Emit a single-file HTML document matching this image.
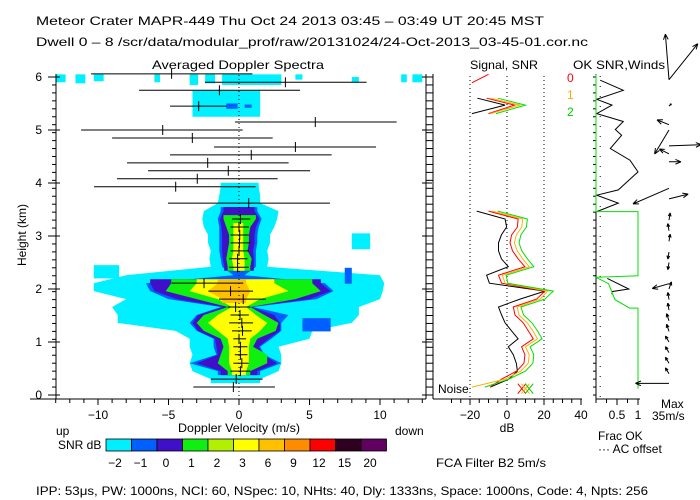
<!DOCTYPE html>
<html><head><meta charset="utf-8">
<style>
body{margin:0;background:#fff;}
svg{display:block;font-family:"Liberation Sans",sans-serif;}
text{font-size:12px;fill:#000;}
</style></head>
<body>
<svg id="c" width="700" height="500" viewBox="0 0 700 500">
<text x="36" y="25" font-size="13" textLength="508" lengthAdjust="spacingAndGlyphs">Meteor Crater   MAPR-449   Thu Oct 24 2013 03:45 – 03:49 UT 20:45 MST</text>
<text x="36" y="46" font-size="13" textLength="552" lengthAdjust="spacingAndGlyphs">Dwell  0 –  8   /scr/data/modular_prof/raw/20131024/24-Oct-2013_03-45-01.cor.nc</text>
<text x="152" y="69" font-size="13" textLength="172" lengthAdjust="spacingAndGlyphs">Averaged Doppler Spectra</text>
<text x="470" y="69" font-size="13" textLength="68" lengthAdjust="spacingAndGlyphs">Signal, SNR</text>
<text x="573" y="69" font-size="13" textLength="92" lengthAdjust="spacingAndGlyphs">OK SNR,Winds</text>
<text transform="translate(26,235) rotate(-90)" text-anchor="middle" font-size="11">Height (km)</text>
<text x="178" y="432" textLength="122" lengthAdjust="spacingAndGlyphs">Doppler Velocity (m/s)</text>
<text x="56" y="435">up</text>
<text x="395" y="435">down</text>
<text x="58" y="449">SNR dB</text>
<text x="507" y="432" text-anchor="middle">dB</text>
<text x="598" y="440">Frac OK</text>
<text x="598" y="453">··· AC offset</text>
<text x="661" y="408">Max</text>
<text x="652" y="420">35m/s</text>
<text x="436" y="467" textLength="110" lengthAdjust="spacingAndGlyphs">FCA Filter B2   5m/s</text>
<text x="36" y="495" textLength="612" lengthAdjust="spacingAndGlyphs">IPP:  53μs,  PW: 1000ns,  NCI:  60,  NSpec: 10, NHts: 40,  Dly: 1333ns,  Space: 1000ns,  Code: 4,  Npts: 256</text>
<text x="438" y="393" font-size="11">Noise</text>
<text x="567" y="82" style="fill:#f00">0</text>
<text x="567" y="99" style="fill:#f0b000">1</text>
<text x="567" y="116" style="fill:#0c0">2</text>
</svg>
<script>
// ---- data ----
const gates=[0.15,0.30,0.45,0.60,0.76,0.91,1.06,1.21,1.36,1.51,1.66,1.81,1.96,2.11,2.26,2.42,2.57,2.72,2.87,3.02,3.17,3.32,3.47,3.62,3.77,3.93];
const cyanL=[null,-2,-3.3,-3.5,-3.3,-3.5,-3.5,-4.5,-8.6,-8.6,-9,-8,-10.3,-10.3,-8,-2,-2.1,-2,-2.2,-2.2,-2.5,-2.6,-2.5,-1.5,-1.4,-1.3];
const cyanR=[null,1.5,2.8,3,3,2.8,5,5.2,8,8.5,8.5,10,10.2,10.3,10,2,2.1,2,2.2,2.2,2.5,2.7,2.8,1.5,1.5,1.4];
const blueL=[null,null,-1.5,-3.5,-1.6,-1.8,-1.8,-3,-3.5,-3,-1.3,-5,-6.3,-6.6,-0.4,-1.2,-1.3,-1.4,-1.4,-1.4,-1.4,-1.5,-1.3,null,null,null];
const blueR=[null,null,1.5,3,1.8,1.5,2.3,3,3,3.5,1.0,5.5,6.7,6.1,0.4,1.2,1.2,1.2,1.3,1.3,1.4,1.6,1.3,null,null,null];
const indL=[null,null,-1.3,-3.0,-1.5,-1.6,-1.7,-2.9,-3.3,-2.9,-1.1,-4.4,-6.0,-6.3,null,-1.05,-1.15,-1.2,-1.2,-1.2,-1.25,-1.35,-1.1,null,null,null];
const indR=[null,null,1.3,2.7,1.7,1.4,2.1,2.9,2.9,2.5,0.9,5.0,6.5,5.8,null,1.05,1.05,1.0,1.1,1.1,1.2,1.45,1.1,null,null,null];
const greenL=[null,null,-0.8,-1.5,-1.3,-1.1,-1.3,-2.5,-3,-2.5,-0.8,-3,-5.2,-4.8,null,-0.8,-0.9,-0.8,-0.7,-0.7,-0.9,-1.1,null,null,null,null];
const greenR=[null,null,0.8,2,2,1,1.3,2.6,2.8,1.8,0.8,4,5.8,5.2,null,0.8,0.9,0.6,0.7,0.7,0.8,1.2,null,null,null,null];
const yelL=[null,null,-0.5,-0.7,-0.7,-0.7,-0.8,-1.5,-2.2,-1.5,-0.5,-1.5,-3.5,-3,null,-0.4,-0.5,-0.4,-0.4,-0.4,-0.4,null,null,null,null,null];
const yelR=[null,null,0.5,0.7,0.7,0.7,0.8,1.5,2,1.2,0.5,1.5,3.5,2.5,null,0.4,0.4,0.3,0.3,0.3,0.3,null,null,null,null,null];
const orgL=[null,null,null,null,null,null,null,null,null,null,null,-1.2,-2.2,-1.5,null,null,null,null,null,null,null,null,null,null,null,null];
const orgR=[null,null,null,null,null,null,null,null,null,null,null,0.5,0.8,0.5,null,null,null,null,null,null,null,null,null,null,null,null];
const cyanPatches=[[-13,-12.3,5.9,6.05],[-11.6,-10.9,5.88,6.05],[-10.3,-9.6,5.92,6.05],[-6,-5.6,5.9,6.05],[-3.5,-2.9,5.85,6.05],[-2.4,-1.7,5.88,6.05],[-1.2,3,5.85,6.05],[4,4.5,5.95,6.05],[8,8.5,5.9,6.0],[11.5,11.9,5.9,6.05],[12.3,13,5.9,6.05],[-3.3,1.5,5.25,5.75],[8,9.3,2.75,3.05],[-10.3,-8.5,2.2,2.45]];
const bluePatches=[[-0.9,-0.1,5.4,5.5],[0.4,0.9,5.42,5.48],[4.5,6.5,1.2,1.45],[7.5,8,2.1,2.4]];
// error bars
const barH=[6.06,5.9,5.75,5.45,5.15,5.0,4.85,4.68,4.53,4.38,4.23,4.08,3.93,3.62,3.32,3.17,3.02,2.87,2.72,2.57,2.41,2.11,1.96,1.81,1.66,1.51,1.36,1.21,1.06,0.91,0.76,0.6,0.45,0.3,0.15];
const barC=[-4.78,3.29,-1.39,-2.86,5.41,-5.41,-3.31,4.0,0.87,-2.22,-0.76,-2.96,-4.49,0.69,0.1,0,0.05,0.03,0,-0.1,-0.1,-2.48,-0.6,0.3,-0.24,0.07,0.2,0.25,0,0.1,0.1,0.2,0.1,-0.2,-0.4];
const barL=[-10.5,-2.41,-7.09,-4.89,-0.28,-11.2,-9.0,-1.77,-4.89,-7.94,-6.45,-8.65,-10.28,-5.04,-0.5,-0.6,-0.6,-0.6,-0.6,-0.7,-0.7,-4.78,-2.17,-1.42,-0.8,-0.6,-0.7,-0.5,-0.4,-0.4,-0.3,-0.4,-0.6,-1.99,-3.24];
const barR=[0.95,9.05,4.33,-0.87,11.18,0.26,2.39,9.72,6.57,3.52,5.04,2.74,1.18,6.45,0.8,0.7,0.7,0.8,0.7,0.6,0.7,0.3,1.0,1.9,0.8,0.7,1.0,0.9,0.5,0.6,0.6,0.7,0.8,1.68,2.55];
// signal / SNR
const sigH=[0.15,0.30,0.45,0.60,0.76,0.91,1.06,1.21,1.36,1.51,1.66,1.81,1.96,2.11,2.26,2.42,2.57,2.72,2.87,3.02,3.17,3.32,3.47];
const signalDb=[-9,1,5.6,5,3.4,0.7,6,2.5,-1,-2.9,-4.6,7,20.5,-9.5,-11,0.7,-3,-4.6,-4.6,-3,-0.2,-1,-16.4];
const snr0=[-9.2,-2.9,5.2,9.2,9.7,7.9,14.2,11.5,8.8,4.3,3.4,16,20.5,-2.9,-4.6,9.7,6,3,1.6,2.5,5.6,6,-10];
const snr1=[-19,-1,7.5,11.5,12,10,16.5,14,11,6.5,5.5,18,22,-1,-2.5,12,8.5,5.5,4,5,8,8.5,-8];
const snr2=[-12,1,10,14,14.5,12.5,19,16.5,13.5,9,7.5,20.5,25,0.5,-0.5,14.5,11,8,6.5,7.5,10.5,11,-5];
const topH=[5.6,5.47,5.31];
const topSignal=[-16,-1,-19];
const topSnr0=[-11,4,-10];
const topSnr1=[-9,7,-9];
const topSnr2=[-5,10,-6];
// OK fraction
const okBlackH=[5.94,5.75,5.58,5.47,5.31,5.16,5.01,4.9,4.65,4.43,4.21,3.87,3.77,3.62,3.46];
const okBlackF=[0.1,0.65,0.02,0.38,0.02,0.65,0.46,0.61,0.34,0.81,1.0,0.53,0.02,0.53,0.02];
const okLowH=[2.2,2.0,1.95,1.9];
const okLowF=[0.27,0.78,0.38,0.38];
const okGreenH=[6.05,3.46,3.46,2.25,2.22,2.1,1.8,1.64,1.64,0.12];
const okGreenF=[0,0,1,1,0,0.3,0.45,0.8,1,1];
// winds: height, u (m/s east), v (m/s north)
const windH=[5.95,5.95,5.45,5.1,5.0,4.7,4.55,4.4,3.9,3.7,3.3,3.1,2.9,2.7,2.5,2.1,2.0,1.8,1.6,1.4,1.2,1.0,0.8,0.6,0.4,0.22];
const windU=[-3,24,2,-10,-12,27,-8,10,-30,16,1,-1,1,-1,-1,-14,2,-1,-1,-2,-2,-3,-3,-3,-3,-28];
const windV=[38,30,2,4,-20,1,4,0,-13,4,6,6,6,-6,-6,-4,6,6,6,6,6,5,5,5,5,0];
const cbColors=["#00f0ff","#0060ff","#4010c8","#10f010","#b0f000","#ffff00","#ffc000","#ff8c00","#ff0000","#300020","#600060"];
const cbLabels=["−2","−1","0","1","2","3","6","9","12","15","20"];
const xTicks=[-10,-5,0,5,10];
const dbTicks=[-20,0,20,40];
const fracTicks=["0.5","1"];

// ---- axes ----
const svg=document.getElementById('c');
const NS='http://www.w3.org/2000/svg';
const X=v=>239+v*14.1;
const Y=h=>395-h*53;
const XD=d=>507+d*1.85;
const XF=f=>596+f*42;
function mk(tag,at){const e=document.createElementNS(NS,tag);for(const k in at)e.setAttribute(k,at[k]);svg.appendChild(e);return e;}

function levelPoly(L,R,color,name){
  let seg=[];
  const flush=()=>{
    if(!seg.length)return;
    const pts=[];
    pts.push([L[seg[0]],gates[seg[0]]-0.075]);
    seg.forEach(i=>pts.push([L[i],gates[i]]));
    pts.push([L[seg[seg.length-1]],gates[seg[seg.length-1]]+0.075]);
    pts.push([R[seg[seg.length-1]],gates[seg[seg.length-1]]+0.075]);
    for(let j=seg.length-1;j>=0;j--)pts.push([R[seg[j]],gates[seg[j]]]);
    pts.push([R[seg[0]],gates[seg[0]]-0.075]);
    const p=mk('polygon',{points:pts.map(q=>X(q[0]).toFixed(1)+','+Y(q[1]).toFixed(1)).join(' '),fill:color});
    
    
    seg=[];
  };
  for(let i=0;i<gates.length;i++){if(L[i]===null)flush();else seg.push(i);}
  flush();
}
cyanPatches.forEach(p=>{
  const r=mk('rect',{x:X(p[0]),y:Y(p[3]),width:X(p[1])-X(p[0]),height:Y(p[2])-Y(p[3]),fill:cbColors[0]});
  
  
});
levelPoly(cyanL,cyanR,cbColors[0],'snr-level-minus2');
levelPoly(blueL,blueR,cbColors[1],'snr-level-minus1');
bluePatches.forEach(p=>{
  const r=mk('rect',{x:X(p[0]),y:Y(p[3]),width:X(p[1])-X(p[0]),height:Y(p[2])-Y(p[3]),fill:cbColors[1]});
  
  
});
levelPoly(indL,indR,cbColors[2],'snr-level-0');
levelPoly(greenL,greenR,cbColors[3],'snr-level-1');
levelPoly(yelL,yelR,cbColors[5],'snr-level-3');
levelPoly(orgL,orgR,cbColors[6],'snr-level-6');

let e=mk('line',{x1:X(0),y1:75,x2:X(0),y2:399,stroke:'#000','stroke-dasharray':'1,3'});



barH.forEach((h,i)=>{
  const l=mk('line',{x1:X(barL[i]),y1:Y(h),x2:X(barR[i]),y2:Y(h),stroke:'#000','stroke-width':1});
  
  
  const t=mk('line',{x1:X(barC[i]),y1:Y(h)-5,x2:X(barC[i]),y2:Y(h)+5,stroke:'#000'});
  
  
});

e=mk('line',{x1:56,y1:74,x2:56,y2:399,stroke:'#000'});


e=mk('line',{x1:426,y1:74,x2:426,y2:399,stroke:'#000'});


e=mk('line',{x1:30,y1:399,x2:426,y2:399,stroke:'#000'});


for(let k=0;k<=40;k++){
  const y=Y(k*0.15);
  const a=mk('line',{x1:52,y1:y,x2:56,y2:y,stroke:'#000'});
  
  
  const b=mk('line',{x1:426,y1:y,x2:430,y2:y,stroke:'#000'});
  
  
  const c2=mk('line',{x1:430,y1:y,x2:433,y2:y,stroke:'#000'});
  
  
  const d=mk('line',{x1:593,y1:y,x2:596,y2:y,stroke:'#000'});
  
  
}
for(let k=0;k<=6;k++){
  const y=Y(k);
  const a=mk('line',{x1:48,y1:y,x2:60,y2:y,stroke:'#000'});
  
  
  const b=mk('line',{x1:422,y1:y,x2:432,y2:y,stroke:'#000'});
  
  
  const t=mk('text',{x:42,y:y+4,'text-anchor':'end'});
  t.textContent=k;
  
  
}
for(let v=-13;v<=13;v++){
  const x=X(v);
  const a=mk('line',{x1:x,y1:399,x2:x,y2:v%5===0?405:403,stroke:'#000'});
  
  
}
xTicks.forEach(v=>{
  const t=mk('text',{x:X(v),y:419,'text-anchor':'middle'});
  t.textContent=v<0?'−'+(-v):v;
  
  
});

e=mk('line',{x1:433,y1:74,x2:433,y2:399,stroke:'#000'});


e=mk('line',{x1:433,y1:399,x2:582,y2:399,stroke:'#000'});


for(let d=-30;d<=40;d+=5){
  const a=mk('line',{x1:XD(d),y1:399,x2:XD(d),y2:d%20===0?405:403,stroke:'#000'});
  
  
}
dbTicks.forEach(d=>{
  if(d<40){const g=mk('line',{x1:XD(d),y1:76,x2:XD(d),y2:399,stroke:'#000','stroke-dasharray':'1,3'});
  
  }
  const t=mk('text',{x:XD(d),y:419,'text-anchor':'middle'});
  t.textContent=d<0?'−'+(-d):d;
  
  
});
function pline(hs,vals,fx,color,name){
  const p=mk('polyline',{points:hs.map((h,i)=>fx(vals[i]).toFixed(1)+','+Y(h).toFixed(1)).join(' '),fill:'none',stroke:color,'stroke-width':1});
  
  
}
pline(sigH,signalDb,XD,'#000','signal-line');
pline(sigH,snr0,XD,'#ff0000','snr-0-line');
pline(sigH,snr1,XD,'#ffb000','snr-1-line');
pline(sigH,snr2,XD,'#00e000','snr-2-line');
pline(topH,topSignal,XD,'#000','signal-line-top');
pline(topH,topSnr0,XD,'#ff0000','snr-0-line-top');
pline(topH,topSnr1,XD,'#ffb000','snr-1-line-top');
pline(topH,topSnr2,XD,'#00e000','snr-2-line-top');
e=mk('line',{x1:XD(-19),y1:Y(5.89),x2:XD(-10),y2:Y(6.05),stroke:'#f00'});


[['#f00',8],['#ffb000',10],['#0c0',12]].forEach(c=>{
  const a=mk('path',{d:`M${XD(c[1])-4},${Y(0.12)-5} l8,10 M${XD(c[1])+4},${Y(0.12)-5} l-8,10`,stroke:c[0],fill:'none'});
  
  
});

e=mk('line',{x1:596,y1:74,x2:596,y2:399,stroke:'#000'});


e=mk('line',{x1:596,y1:399,x2:640,y2:399,stroke:'#000'});


for(let f=0;f<=1.0001;f+=0.25){
  const a=mk('line',{x1:XF(f),y1:399,x2:XF(f),y2:f===0.5||f>0.99?405:403,stroke:'#000'});
  
  
}
fracTicks.forEach(s=>{
  const t=mk('text',{x:XF(parseFloat(s)),y:419,'text-anchor':'middle'});
  t.textContent=s;
  
  
});
e=mk('line',{x1:XF(0.1),y1:76,x2:XF(0.1),y2:399,stroke:'#000','stroke-dasharray':'1,9'});


pline(okBlackH,okBlackF,XF,'#000','ok-frac-line-top');
pline(okLowH,okLowF,XF,'#000','ok-frac-line-low');
pline(okGreenH,okGreenF,XF,'#00e000','ok-frac-green-line');

windH.forEach((h,i)=>{
  const x0=669,y0=Y(h);
  const x1=x0+windU[i]*1.2,y1=y0-windV[i]*1.2;
  const ang=Math.atan2(y1-y0,x1-x0);
  const hl=Math.min(6,Math.hypot(x1-x0,y1-y0)*0.5);
  const d=`M${x0},${y0} L${x1},${y1} M${x1},${y1} L${x1-hl*Math.cos(ang-0.4)},${y1-hl*Math.sin(ang-0.4)} M${x1},${y1} L${x1-hl*Math.cos(ang+0.4)},${y1-hl*Math.sin(ang+0.4)}`;
  const p=mk('path',{d:d,stroke:'#000',fill:'none','stroke-width':1});
  
  
});

cbColors.forEach((c,i)=>{
  const r=mk('rect',{x:106+i*25.5,y:439,width:25.5,height:12,fill:c,stroke:'#000','stroke-width':0.8});
  
  
  const t=mk('text',{x:106+i*25.5+9,y:467,'text-anchor':'middle'});
  t.textContent=cbLabels[i];
  
  
});
</script>
</body></html>
